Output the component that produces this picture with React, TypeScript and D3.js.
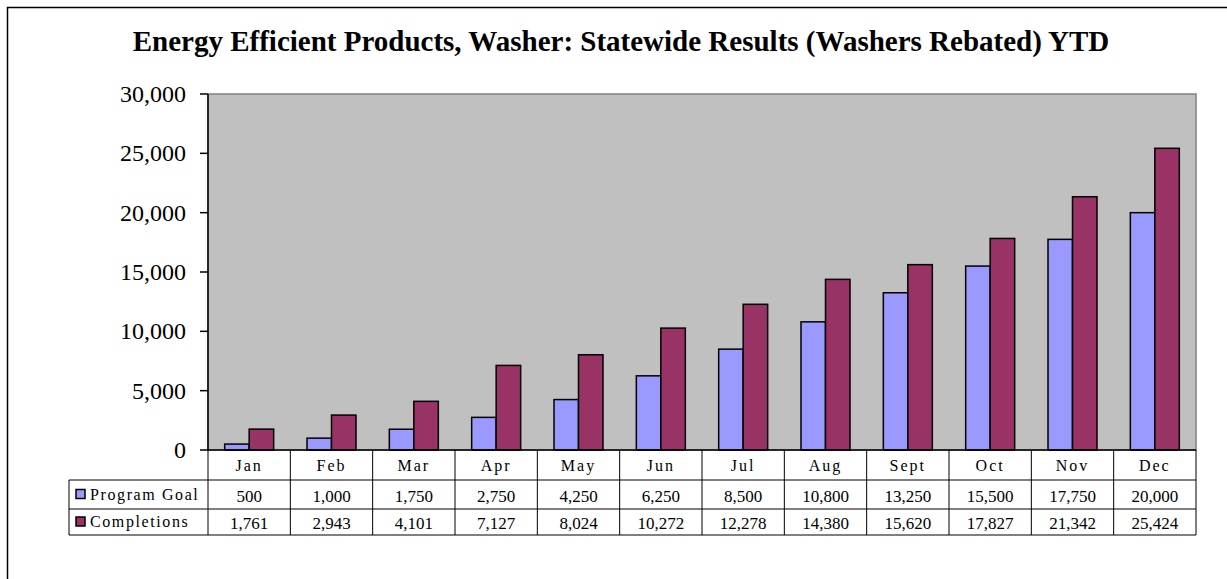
import React from 'react';
import * as d3 from 'd3';

const months = ['Jan', 'Feb', 'Mar', 'Apr', 'May', 'Jun', 'Jul', 'Aug', 'Sept', 'Oct', 'Nov', 'Dec'];
const seriesNames = ['Program Goal', 'Completions'];
const programGoal = [500, 1000, 1750, 2750, 4250, 6250, 8500, 10800, 13250, 15500, 17750, 20000];
const completions = [1761, 2943, 4101, 7127, 8024, 10272, 12278, 14380, 15620, 17827, 21342, 25424];
const goalLabels = ['500', '1,000', '1,750', '2,750', '4,250', '6,250', '8,500', '10,800', '13,250', '15,500', '17,750', '20,000'];
const completionLabels = ['1,761', '2,943', '4,101', '7,127', '8,024', '10,272', '12,278', '14,380', '15,620', '17,827', '21,342', '25,424'];
const yTicks = [0, 5000, 10000, 15000, 20000, 25000, 30000];

const colors = ['#9999FF', '#993366'];
const font = '"Liberation Serif", "Times New Roman", serif';

export default function App() {
    const width = 1227;
    const height = 579;
    const left = 208, right = 1196, top = 94, bottom = 450;
    const tableLeft = 69;
    const rowH = [30, 29, 26];

    const x = d3.scaleBand().domain(months).range([left, right]).paddingInner(0.405).paddingOuter(0.2025);
    const xCol = d3.scaleBand().domain(months).range([left, right]);
    const xInner = d3.scaleBand().domain(seriesNames).range([0, x.bandwidth()]);
    const y = d3.scaleLinear().domain([0, 30000]).range([bottom, top]);
    const fmt = d3.format(',');

    const series = [programGoal, completions];
    const rowLabels = [goalLabels, completionLabels];
    const r1 = bottom + rowH[0];
    const r2 = r1 + rowH[1];
    const r3 = r2 + rowH[2];

    return (
        <svg width={width} height={height} style={{ position: 'absolute', left: 0, top: 0, fontFamily: font }}>
            <rect x={0} y={0} width={width} height={height} fill="#ffffff" />
            <rect x={7.5} y={7.5} width={1240} height={600} fill="none" stroke="#000" strokeWidth={1.5} />
            <text x={621} y={51} textAnchor="middle" fontSize={29} fontWeight="bold">
                Energy Efficient Products, Washer: Statewide Results (Washers Rebated) YTD
            </text>

            {/* plot area */}
            <rect x={left} y={top} width={right - left} height={bottom - top} fill="#C0C0C0" stroke="#808080" strokeWidth={1.5} />
            <line x1={left} x2={left} y1={top} y2={bottom} stroke="#000" strokeWidth={1.5} />

            {yTicks.map(t => (
                <g key={t}>
                    <line x1={left - 8} x2={left} y1={y(t)} y2={y(t)} stroke="#000" strokeWidth={1.5} />
                    <text x={186} y={y(t) + 8} textAnchor="end" fontSize={24}>{fmt(t)}</text>
                </g>
            ))}

            {months.map((m, i) => (
                <g key={m} transform={`translate(${x(m)},0)`}>
                    {series.map((s, j) => (
                        <rect key={j}
                            x={xInner(seriesNames[j])}
                            y={y(s[i])}
                            width={xInner.bandwidth()}
                            height={bottom - y(s[i])}
                            fill={colors[j]}
                            stroke="#000"
                            strokeWidth={1.5} />
                    ))}
                </g>
            ))}

            {/* data table */}
            <g fill="none" stroke="#000" strokeWidth={1}>
                <line x1={left} x2={right} y1={bottom} y2={bottom} strokeWidth={1.5} />
                <line x1={tableLeft} x2={right} y1={r1} y2={r1} />
                <line x1={tableLeft} x2={right} y1={r2} y2={r2} />
                <line x1={tableLeft} x2={right} y1={r3} y2={r3} />
                <line x1={tableLeft} x2={tableLeft} y1={r1} y2={r3} />
                {months.map(m => (
                    <line key={m} x1={xCol(m)} x2={xCol(m)} y1={bottom} y2={r3} />
                ))}
                <line x1={right} x2={right} y1={bottom} y2={r3} />
            </g>

            {months.map(m => (
                <text key={m} x={xCol(m) + xCol.bandwidth() / 2} y={bottom + 21} textAnchor="middle" fontSize={16} letterSpacing={2}>{m}</text>
            ))}

            {seriesNames.map((name, j) => {
                const rowTop = j === 0 ? r1 : r2;
                const h = j === 0 ? rowH[1] : rowH[2];
                return (
                    <g key={name}>
                        <rect x={76} y={rowTop + h / 2 - 5} width={9} height={9} fill={colors[j]} stroke="#000" strokeWidth={1.5} />
                        <text x={90} y={rowTop + h / 2 + 5} fontSize={16} letterSpacing={1.6}>{name}</text>
                        {months.map((m, i) => (
                            <text key={m} x={xCol(m) + xCol.bandwidth() / 2} y={rowTop + h / 2 + 7} textAnchor="middle" fontSize={17}>{rowLabels[j][i]}</text>
                        ))}
                    </g>
                );
            })}
        </svg>
    );
}
